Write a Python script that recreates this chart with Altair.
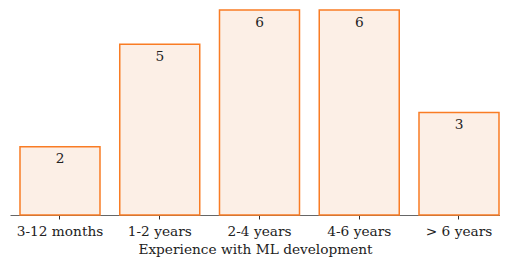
import altair as alt
import pandas as pd

categories = ["3-12 months", "1-2 years", "2-4 years", "4-6 years", "> 6 years"]
counts = [2, 5, 6, 6, 3]

df = pd.DataFrame({"exp": categories, "n": counts})

FONT = "DejaVu Serif"
FS = 13.7

base = alt.Chart(df).encode(
    x=alt.X("exp:N", sort=categories,
            scale=alt.Scale(paddingInner=0.198, paddingOuter=0.0551, align=0.909),
            axis=alt.Axis(title="Experience with ML development", labelAngle=0,
                          labelFont=FONT, titleFont=FONT, labelFontSize=FS,
                          titleFontSize=FS, titleFontWeight="normal",
                          labelColor="#222", titleColor="#222",
                          domainColor="#666", tickColor="#333", tickSize=4,
                          labelPadding=5, titlePadding=5)),
)

bars = base.mark_bar(fill="#fcefe6", stroke="#f97c24", strokeWidth=1.5).encode(
    y=alt.Y("n:Q", scale=alt.Scale(domain=[0, 6], nice=False), axis=None)
)

labels = base.mark_text(font=FONT, fontSize=FS, baseline="middle", dy=12.5,
                        color="#222").encode(
    y=alt.Y("n:Q"), text=alt.Text("n:Q")
)

chart = (bars + labels).properties(
    width=490, height=205,
    autosize=alt.AutoSizeParams(type="none"),
    padding={"left": 2, "top": 2, "right": 0, "bottom": 46},
).configure_view(stroke=None)

chart.save("out.html", embed_options={"renderer": "svg", "actions": False})
